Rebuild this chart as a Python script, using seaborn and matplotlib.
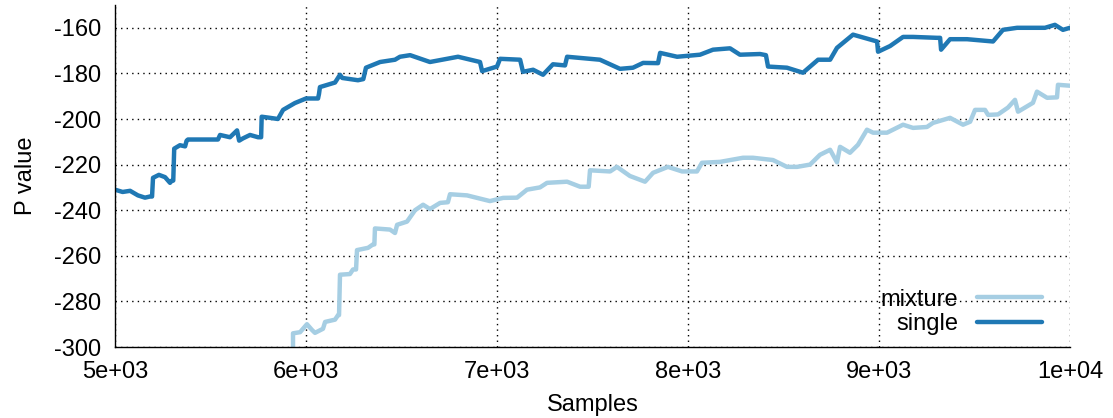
import matplotlib
matplotlib.use("Agg")
import matplotlib.pyplot as plt
import seaborn as sns
import pandas as pd

single_x = [5000, 5040, 5079, 5120, 5157, 5183, 5194, 5199, 5230, 5262, 5288, 5298, 5305, 5310, 5340, 5367, 5375, 5382, 5539, 5550,
            5602, 5639, 5650, 5670, 5707, 5749, 5765, 5768, 5812, 5853, 5880, 5942, 6000, 6063, 6068, 6073,
            6152, 6178, 6190, 6272, 6300, 6314, 6388, 6466, 6492, 6545, 6649, 6796, 6911, 6922, 7000, 7016,
            7121, 7136, 7189, 7241, 7293, 7356, 7367, 7539, 7644, 7712, 7765, 7843, 7854, 7943,
            8063, 8131, 8220, 8272, 8377, 8408, 8419, 8518, 8602, 8681, 8744, 8780, 8864, 8990,
            8995, 9058, 9126, 9178, 9304, 9320, 9325, 9372, 9461, 9597, 9649, 9723, 9869, 9921, 9963, 10000]
single_y = [-231, -232, -231.5, -233.5, -234.5, -234, -234, -225.8, -224.5, -225.5, -228, -227, -227, -213, -211.5, -212, -209.5, -209, -209, -207,
            -208, -205, -209.5, -208.5, -207, -208, -208, -199, -199.5, -200, -196, -193, -191, -191, -189, -186,
            -184, -180.6, -182, -183, -182.5, -177.5, -175, -174, -172.7, -172, -175, -172.7, -175, -179, -177, -173.6,
            -174, -179.3, -178.4, -180.6, -176, -176.5, -172.7, -174, -178, -177.5, -175.4, -175.5, -171, -172.7,
            -171.8, -169.6, -169, -171.8, -171.5, -172, -177, -177.5, -179.7, -174, -174, -168.8, -163, -166,
            -170.5, -168, -164, -164, -164.4, -164.4, -169.6, -165, -165, -166, -160.9, -160, -160, -158.7, -160.9, -160]

mixture_x = [5932, 5932, 5969, 6005, 6031, 6047, 6089, 6100, 6152, 6168, 6173, 6178, 6230, 6246, 6262, 6267,
             6325, 6351, 6358, 6361, 6440, 6466, 6477, 6529, 6571, 6613, 6649, 6702, 6743, 6754, 6843,
             6963, 7032, 7105, 7157, 7225, 7262, 7367, 7435, 7480, 7487, 7592, 7628, 7696, 7775, 7817,
             7895, 7969, 8047, 8073, 8168, 8288, 8340, 8445, 8518, 8571, 8639, 8691, 8744, 8780,
             8796, 8848, 8890, 8937, 8969, 9042, 9126, 9178, 9251, 9283, 9372, 9440, 9477, 9503,
             9555, 9571, 9623, 9675, 9712, 9728, 9806, 9827, 9880, 9932, 9937, 10000]
mixture_y = [-303, -294, -293.5, -290, -292.5, -293.8, -292, -289, -288, -286, -286, -268.3, -268, -266, -266, -257.5,
             -256.5, -255, -255, -248, -248.5, -250, -246.4, -245, -240, -237.6, -239.5, -236.8, -236.5, -233, -233.5,
             -236, -234.6, -234.5, -231, -230, -228, -227.5, -229.7, -229.7, -222.5, -223, -221, -225, -227.5, -223.6,
             -221, -223, -223, -219.2, -218.8, -217, -217, -218, -221, -221, -220, -215.7, -213.5, -219,
             -212.2, -214.8, -211.3, -204.7, -206, -206, -202.5, -203.9, -203.5, -201.7, -199.5, -202.5, -201.2, -196,
             -196, -198.2, -198, -195, -191.6, -196.8, -192.9, -188, -190.7, -190.5, -185, -185.4]

x_ticks = [5000, 6000, 7000, 8000, 9000, 10000]
x_tick_labels = ["5e+03", "6e+03", "7e+03", "8e+03", "9e+03", "1e+04"]
y_ticks = [-300, -280, -260, -240, -220, -200, -180, -160]

df = pd.concat([
    pd.DataFrame({"Samples": mixture_x, "P": mixture_y, "series": "mixture"}),
    pd.DataFrame({"Samples": single_x, "P": single_y, "series": "single"}),
], ignore_index=True)

sns.set_style("white")
plt.rcParams["font.family"] = ["Liberation Sans", "DejaVu Sans"]
plt.rcParams["axes.unicode_minus"] = False
plt.rcParams["text.color"] = "black"
plt.rcParams["axes.labelcolor"] = "black"
plt.rcParams["xtick.color"] = "black"
plt.rcParams["ytick.color"] = "black"

fig = plt.figure(figsize=(11.13, 4.18), dpi=100)
ax = fig.add_axes([115/1113, 1 - 347/418, (1070-115)/1113, (347-5)/418])

sns.lineplot(data=df, x="Samples", y="P", hue="series", hue_order=["mixture", "single"],
             palette={"mixture": "#a6cee3", "single": "#1f78b4"},
             estimator=None, sort=False, linewidth=3.2, ax=ax)

ax.set_xlim(5000, 10000)
ax.set_ylim(-300, -150)
ax.set_xticks(x_ticks)
ax.set_xticklabels(x_tick_labels)
ax.set_yticks(y_ticks)
ax.grid(True, color="black", linestyle=(0, (1, 3)), linewidth=1)
for s in ["top", "right"]:
    ax.spines[s].set_visible(False)
for s in ["left", "bottom"]:
    ax.spines[s].set_color("black")
    ax.spines[s].set_linewidth(1)
ax.tick_params(direction="in", length=9, width=1, color="black", labelsize=17, pad=10)
ax.set_xlabel("Samples", fontsize=17, labelpad=8)
ax.set_ylabel("P value", fontsize=17, labelpad=12)

leg = ax.legend(loc="lower right", frameon=False, markerfirst=False, fontsize=17,
                handlelength=2.75, handletextpad=0.8, labelspacing=0.1, borderpad=0,
                bbox_to_anchor=(0.9707, 0.035), borderaxespad=0)
for line in leg.get_lines():
    line.set_linewidth(3.2)

fig.savefig("out.png", dpi=100)
